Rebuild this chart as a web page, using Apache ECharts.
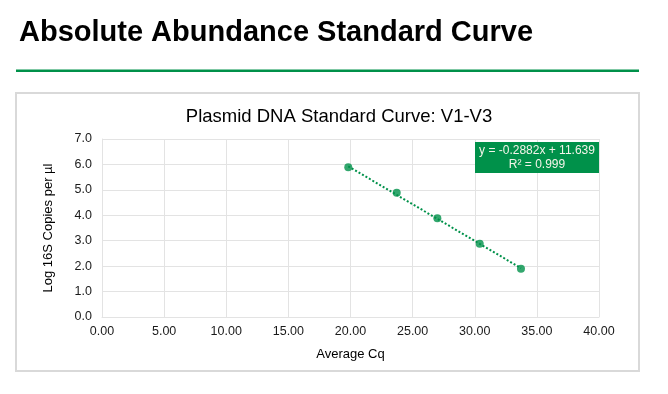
<!DOCTYPE html>
<html>
<head>
<meta charset="utf-8">
<script src="https://cdn.jsdelivr.net/npm/echarts@6/dist/echarts.min.js"></script>
<style>
html,body{margin:0;padding:0;background:#fff;}
#c{width:668px;height:394px;}
</style>
</head>
<body>
<div id="c"></div>
<script>
// Data
const avgCq = [19.82, 23.72, 26.99, 30.40, 33.72];
const logCopies = [5.89, 4.89, 3.88, 2.88, 1.90];
const trendSlope = -0.2882;
const trendIntercept = 11.639;
const trendR2 = 0.999;
const xTicks = [0, 5, 10, 15, 20, 25, 30, 35, 40];
const yTicks = [0, 1, 2, 3, 4, 5, 6, 7];

const pageTitle = 'Absolute Abundance Standard Curve';
const chartTitle = 'Plasmid DNA Standard Curve: V1-V3';
const xName = 'Average Cq';
const yName = 'Log 16S Copies per µl';

const GREEN = '#00914a';
const FONT = '"Liberation Sans", Arial, sans-serif';

const points = avgCq.map((x, i) => [x, logCopies[i]]);
const xMinD = Math.min(...avgCq), xMaxD = Math.max(...avgCq);
const trend = [[xMinD, trendSlope * xMinD + trendIntercept], [xMaxD, trendSlope * xMaxD + trendIntercept]];

const chart = echarts.init(document.getElementById('c'), null, {renderer: 'canvas'});
chart.setOption({
  animation: false,
  backgroundColor: '#ffffff',
  title: [
    {text: pageTitle, left: 14, top: 13, textStyle: {fontFamily: FONT, fontSize: 29, fontWeight: 'bold', color: '#000'}},
    {text: chartTitle, left: 334, textAlign: 'center', top: 102, textStyle: {fontFamily: FONT, fontSize: 18.5, fontWeight: 'normal', color: '#000'}}
  ],
  graphic: [
    {type: 'rect', shape: {x: 16, y: 69.5, width: 623, height: 2.5}, style: {fill: GREEN}, silent: true},
    {type: 'rect', shape: {x: 16, y: 93, width: 623, height: 278}, style: {fill: 'none', stroke: '#d9d9d9', lineWidth: 2}, silent: true, z: -1},
    {type: 'group', left: 475, top: 142, z: 100, children: [
      {type: 'rect', z: 100, shape: {x: 0, y: 0, width: 124, height: 31}, style: {fill: GREEN}},
      {type: 'text', z: 101, x: 62, y: 9, style: {text: 'y = ' + trendSlope + 'x + ' + trendIntercept, fill: '#f4f4ea', font: '12px ' + FONT, textAlign: 'center', textVerticalAlign: 'middle'}},
      {type: 'text', z: 101, x: 62, y: 22.5, style: {text: 'R² = ' + trendR2, fill: '#f4f4ea', font: '12px ' + FONT, textAlign: 'center', textVerticalAlign: 'middle'}}
    ]}
  ],
  grid: {left: 102, right: 69, top: 139, bottom: 77, containLabel: false},
  xAxis: {
    type: 'value', min: xTicks[0], max: xTicks[xTicks.length - 1], interval: xTicks[1] - xTicks[0],
    name: xName, nameLocation: 'middle', nameGap: 31,
    nameTextStyle: {fontFamily: FONT, fontSize: 13, color: '#000'},
    axisLine: {show: true, lineStyle: {color: '#e3e3e3', width: 1}},
    axisTick: {show: false},
    axisLabel: {fontFamily: FONT, fontSize: 12.5, color: '#1a1a1a', margin: 8, formatter: v => v.toFixed(2)},
    splitLine: {show: true, lineStyle: {color: '#e3e3e3', width: 1}}
  },
  yAxis: {
    type: 'value', min: yTicks[0], max: yTicks[yTicks.length - 1], interval: yTicks[1] - yTicks[0],
    name: yName, nameLocation: 'middle', nameGap: 47, nameRotate: 90,
    nameTextStyle: {fontFamily: FONT, fontSize: 13, color: '#000'},
    axisLine: {show: true, lineStyle: {color: '#e3e3e3', width: 1}},
    axisTick: {show: false},
    axisLabel: {fontFamily: FONT, fontSize: 12.5, color: '#1a1a1a', margin: 10, formatter: v => v.toFixed(1)},
    splitLine: {show: true, lineStyle: {color: '#e3e3e3', width: 1}}
  },
  series: [
    {type: 'line', data: trend, symbol: 'none', silent: true,
     lineStyle: {color: GREEN, width: 2, type: [2, 2]}, z: 2},
    {type: 'scatter', data: points, symbol: 'circle', symbolSize: 8,
     itemStyle: {color: GREEN}, z: 3}
  ]
});
</script>
</body>
</html>
